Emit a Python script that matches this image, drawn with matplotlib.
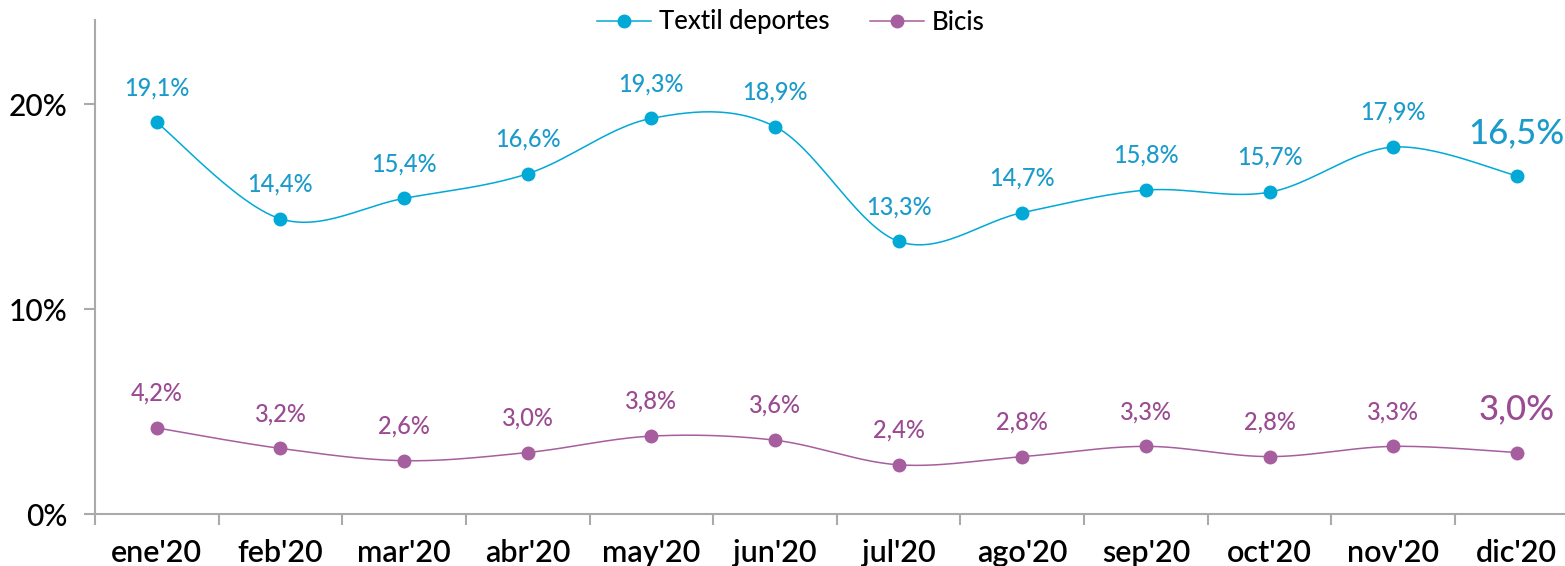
import numpy as np
import matplotlib
matplotlib.use("Agg")
import matplotlib.pyplot as plt

plt.rcParams['font.family'] = ['Lato', 'DejaVu Sans']

months = ["ene'20", "feb'20", "mar'20", "abr'20", "may'20", "jun'20",
          "jul'20", "ago'20", "sep'20", "oct'20", "nov'20", "dic'20"]
textil = [19.1, 14.4, 15.4, 16.6, 19.3, 18.9, 13.3, 14.7, 15.8, 15.7, 17.9, 16.5]
bicis = [4.2, 3.2, 2.6, 3.0, 3.8, 3.6, 2.4, 2.8, 3.3, 2.8, 3.3, 3.0]

blue = '#00A9D6'
blue_txt = '#1B9BCB'
purple = '#A65E9E'
purple_txt = '#9A4B92'


def smooth(y, n=30):
    # Catmull-Rom style bezier, like the smoothed line in the source chart
    x = np.arange(len(y), dtype=float)
    y = np.asarray(y, dtype=float)
    px = np.concatenate([[x[0]], x, [x[-1]]])
    py = np.concatenate([[y[0]], y, [y[-1]]])
    xs, ys = [], []
    t = np.linspace(0, 1, n)
    for i in range(len(y) - 1):
        p0 = np.array([px[i + 1], py[i + 1]])
        p3 = np.array([px[i + 2], py[i + 2]])
        c1 = p0 + (p3 - np.array([px[i], py[i]])) / 6
        c2 = p3 - (np.array([px[i + 3], py[i + 3]]) - p0) / 6
        b = ((1 - t) ** 3)[:, None] * p0 + (3 * (1 - t) ** 2 * t)[:, None] * c1 \
            + (3 * (1 - t) * t ** 2)[:, None] * c2 + (t ** 3)[:, None] * p3
        xs.extend(b[:, 0])
        ys.extend(b[:, 1])
    return xs, ys


fig = plt.figure(figsize=(15.65, 5.66), dpi=100)
ax = fig.add_axes([95 / 1565, 1 - 514 / 566, 1 - 95 / 1565, (514 - 20) / 566])

x = np.arange(len(months))
for vals, col, txt, name in [(textil, blue, blue_txt, 'Textil deportes'),
                             (bicis, purple, purple_txt, 'Bicis')]:
    sx, sy = smooth(vals)
    ax.plot(sx, sy, color=col, lw=1.1, zorder=2)
    ax.plot(x, vals, 'o', color=col, ms=9, zorder=3)
    ax.plot([], [], '-o', color=col, ms=9, lw=1.1, label=name)
    for i, v in enumerate(vals):
        lbl = ('%.1f%%' % v).replace('.', ',')
        if i == len(vals) - 1:
            ax.annotate(lbl, (i, v), xytext=(0, 31), textcoords='offset points',
                        ha='center', va='center', fontsize=25, color=txt,
                        fontweight='medium')
        else:
            ax.annotate(lbl, (i, v), xytext=(0, 25), textcoords='offset points',
                        ha='center', va='center', fontsize=17, color=txt,
                        fontweight='medium')

ax.set_yticks([0, 10, 20])
ax.set_yticklabels(['0%', '10%', '20%'], fontsize=21.5, fontweight='medium')
ax.set_xticks(x)
ax.set_xticklabels(months, fontsize=22, fontweight='semibold')
ax.set_xticks(np.arange(-0.5, 12, 1), minor=True)
ax.set_xlim(-0.5, 11.39)
ax.set_ylim(0, 24.1)
ax.tick_params(axis='x', which='major', length=0, pad=18)
ax.tick_params(axis='x', which='minor', length=8, color='#AAAAAA', width=1.5)
ax.tick_params(axis='y', length=8, color='#AAAAAA', width=1.5, pad=12)

for s in ['top', 'right']:
    ax.spines[s].set_visible(False)
for s in ['left', 'bottom']:
    ax.spines[s].set_color('#AAAAAA')
    ax.spines[s].set_linewidth(1.5)

fig.legend(loc='center', bbox_to_anchor=(791 / 1565, 1 - 22 / 566), ncol=2,
           frameon=False, handlelength=2.1, columnspacing=1.6,
           handletextpad=0.3, prop={'size': 18.5, 'weight': 'medium'})

fig.savefig('out.png', dpi=100)
